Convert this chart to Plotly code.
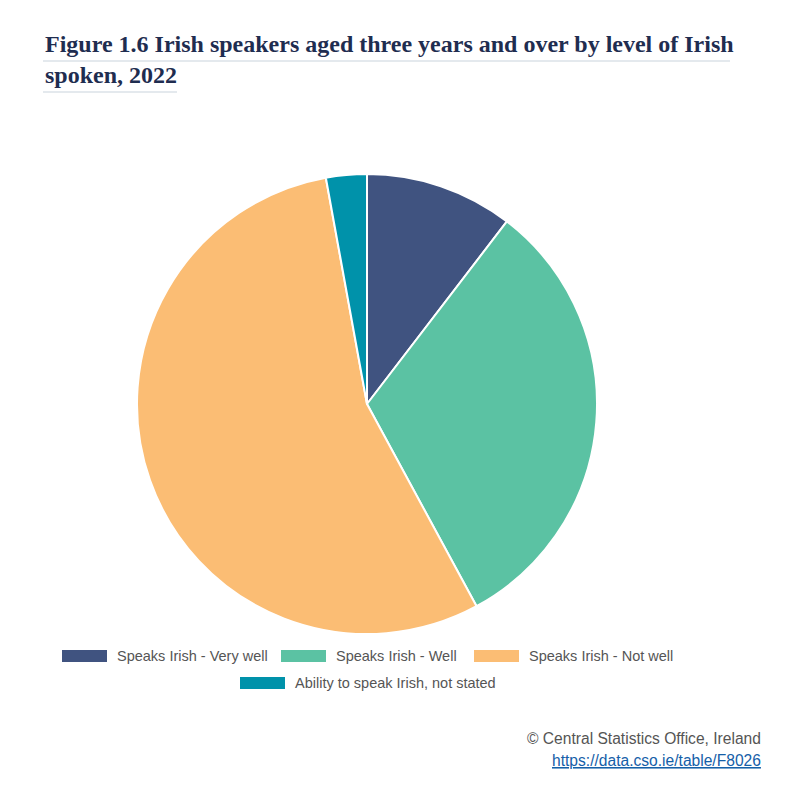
import plotly.graph_objects as go

W, H = 804, 792
PAGE_OFFSET = 8  # default body margin of the html page

# data (Census 2022, persons aged 3+ who can speak Irish)
labels = [
    "Speaks Irish - Very well",
    "Speaks Irish - Well",
    "Speaks Irish - Not well",
    "Ability to speak Irish, not stated",
]
values = [195029, 593898, 1031410, 53660]
colors = ["#405380", "#5BC2A3", "#FBBD74", "#0092AA"]

title_lines = [
    "Figure 1.6 Irish speakers aged three years and over by level of Irish",
    "spoken, 2022",
]
source_text = "© Central Statistics Office, Ireland"
source_url = "https://data.cso.ie/table/F8026"


def px(x):
    return (x - PAGE_OFFSET) / W


def py(y):
    # y measured from top of the window
    return 1 - (y - PAGE_OFFSET) / H


fig = go.Figure()

# pie: centre ~ (367, 404), radius ~ 230
cx, cy, r = 367, 404, 230
fig.add_trace(go.Pie(
    labels=labels,
    values=values,
    marker=dict(colors=colors, line=dict(color="white", width=2)),
    sort=False,
    direction="clockwise",
    rotation=0,
    textinfo="none",
    hovertemplate="%{label}: %{value:,}<extra></extra>",
    showlegend=False,
    domain=dict(x=[px(cx - r), px(cx + r)], y=[py(cy + r), py(cy - r)]),
))

shapes = []
annotations = []

# title, two lines with thin rules under each
title_font = dict(family="Liberation Serif, serif", size=24, color="#1F2D50")
for line, ty, rule_end in zip(title_lines, [44, 75], [730, 177]):
    annotations.append(dict(
        x=px(43), y=py(ty), xref="paper", yref="paper",
        xanchor="left", yanchor="middle", showarrow=False,
        text="<b>" + line + "</b>", font=title_font,
    ))
    rule_y = ty + 17
    shapes.append(dict(
        type="line", xref="paper", yref="paper",
        x0=px(43), x1=px(rule_end), y0=py(rule_y), y1=py(rule_y),
        line=dict(color="#C9D3DC", width=1),
    ))

# custom legend with wide colour swatches
legend_pos = [(62, 656), (281, 656), (474, 656), (240, 683)]
legend_font = dict(family="Liberation Sans, Arial, sans-serif", size=14.5, color="#555555")
for lab, col, (lx, ly) in zip(labels, colors, legend_pos):
    shapes.append(dict(
        type="rect", xref="paper", yref="paper",
        x0=px(lx), x1=px(lx + 45), y0=py(ly + 6), y1=py(ly - 6),
        fillcolor=col, line=dict(width=0),
    ))
    annotations.append(dict(
        x=px(lx + 53), y=py(ly), xref="paper", yref="paper",
        xanchor="left", yanchor="middle", showarrow=False,
        text=lab, font=legend_font,
    ))

# source / link, right aligned
annotations.append(dict(
    x=px(763), y=py(738), xref="paper", yref="paper",
    xanchor="right", yanchor="middle", showarrow=False,
    text=source_text,
    font=dict(family="Liberation Sans, Arial, sans-serif", size=15.6, color="#555555"),
))
annotations.append(dict(
    x=px(763), y=py(760), xref="paper", yref="paper",
    xanchor="right", yanchor="middle", showarrow=False,
    text='<a href="' + source_url + '" style="color:#1560A8"><u>' + source_url + "</u></a>",
    font=dict(family="Liberation Sans, Arial, sans-serif", size=15.6, color="#1560A8"),
))

fig.update_layout(
    width=W, height=H,
    margin=dict(l=0, r=0, t=0, b=0),
    paper_bgcolor="white",
    plot_bgcolor="white",
    shapes=shapes,
    annotations=annotations,
    showlegend=False,
)

fig.write_html("out.html", config={"displayModeBar": False})
